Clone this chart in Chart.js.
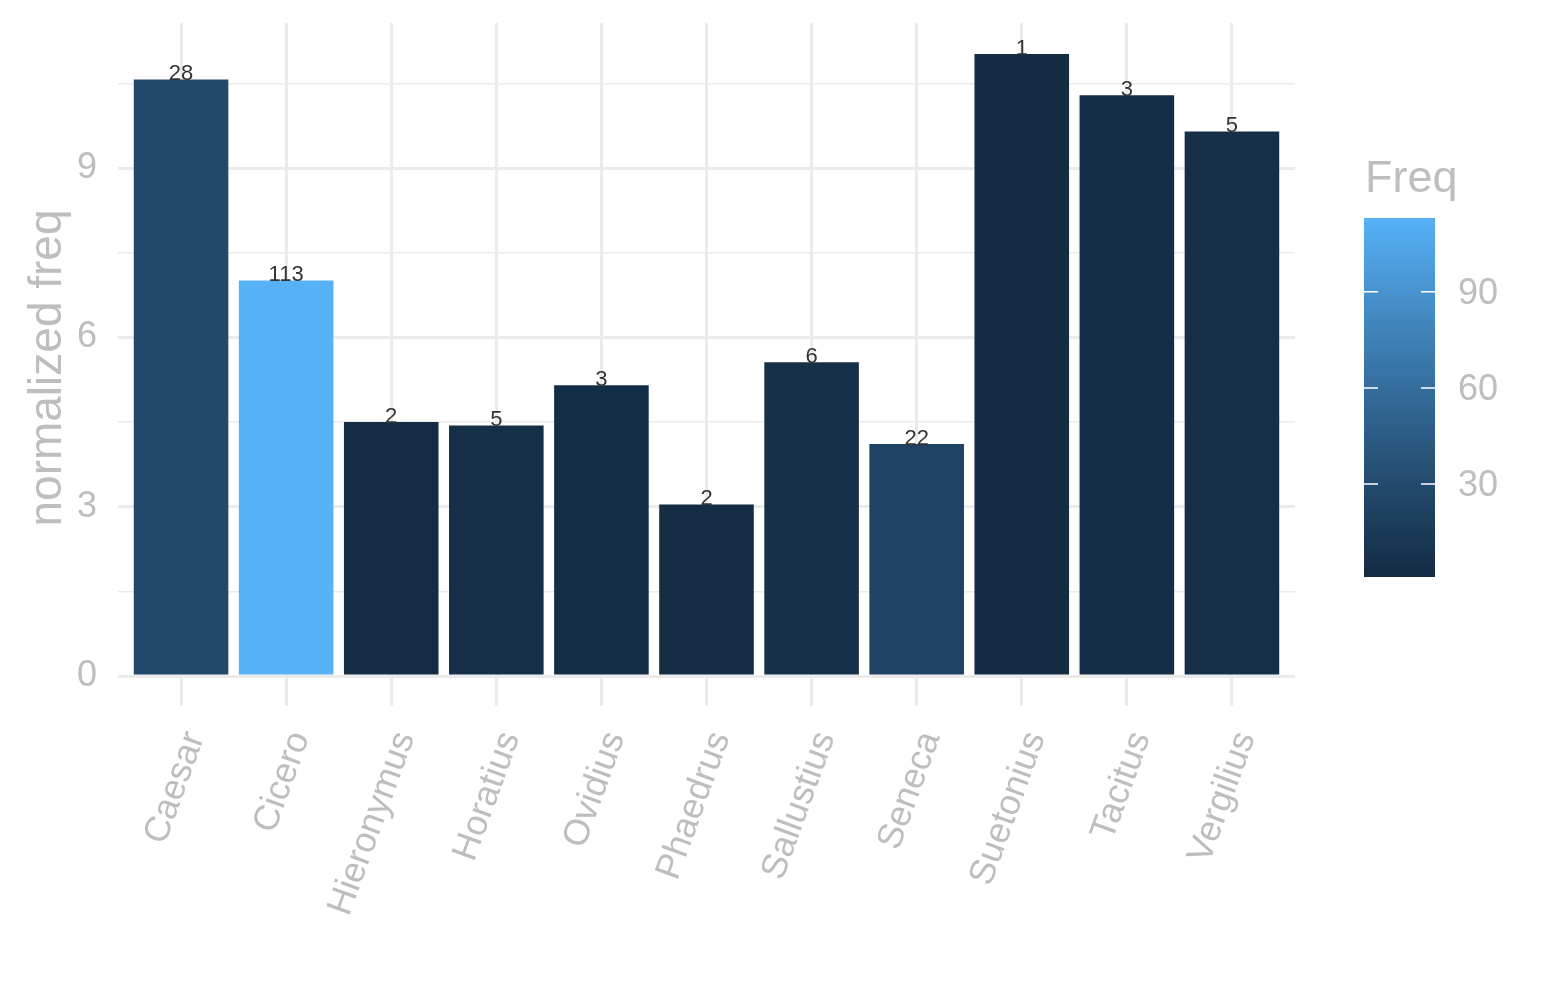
<!DOCTYPE html>
<html>
<head>
<meta charset="utf-8">
<script src="https://cdn.jsdelivr.net/npm/chart.js@4.4.1/dist/chart.umd.min.js"></script>
<style>
  html, body { margin: 0; padding: 0; background: #ffffff; }
  #wrap { width: 1545px; height: 1000px; }
</style>
</head>
<body>
<div id="wrap"><canvas id="freqChart" width="1545" height="1000"></canvas></div>
<script>
// data
const authors = ['Caesar', 'Cicero', 'Hieronymus', 'Horatius', 'Ovidius', 'Phaedrus',
                 'Sallustius', 'Seneca', 'Suetonius', 'Tacitus', 'Vergilius'];
const normFreq = [10.57, 7.01, 4.50, 4.44, 5.15, 3.04, 5.56, 4.11, 11.02, 10.29, 9.65];
const freq = [28, 113, 2, 5, 3, 2, 6, 22, 1, 3, 5];
const yMajorTicks = [0, 3, 6, 9];
const yMinorTicks = [1.5, 4.5, 7.5, 10.5];
const legendTicks = [30, 60, 90];

const GRID = '#EBEBEB';
const TEXT_GREY = '#BEBEBE';
const FONT = '"Liberation Sans", Arial, sans-serif';
const LOW = '#132B43', HIGH = '#56B1F7';   // ggplot default gradient ends

// --- colour ramp in CIELAB, like scales::seq_gradient_pal ---
function hexToRgb(h) {
    return [1, 3, 5].map(i => parseInt(h.substr(i, 2), 16) / 255);
}
function lin(c) { return c <= 0.04045 ? c / 12.92 : Math.pow((c + 0.055) / 1.055, 2.4); }
function unlin(c) { return c <= 0.0031308 ? 12.92 * c : 1.055 * Math.pow(c, 1 / 2.4) - 0.055; }
const WN = [0.95047, 1.0, 1.08883];
function rgbToLab(rgb) {
    const [r, g, b] = rgb.map(lin);
    const xyz = [
        r * 0.4124 + g * 0.3576 + b * 0.1805,
        r * 0.2126 + g * 0.7152 + b * 0.0722,
        r * 0.0193 + g * 0.1192 + b * 0.9505
    ];
    const f = xyz.map((v, i) => {
        const t = v / WN[i];
        return t > 0.008856 ? Math.cbrt(t) : 7.787 * t + 16 / 116;
    });
    return [116 * f[1] - 16, 500 * (f[0] - f[1]), 200 * (f[1] - f[2])];
}
function labToRgb(lab) {
    const fy = (lab[0] + 16) / 116;
    const fx = fy + lab[1] / 500;
    const fz = fy - lab[2] / 200;
    const [x, y, z] = [fx, fy, fz].map((f, i) => {
        const t = f * f * f > 0.008856 ? f * f * f : (f - 16 / 116) / 7.787;
        return t * WN[i];
    });
    const rgb = [
        x * 3.2406 + y * -1.5372 + z * -0.4986,
        x * -0.9689 + y * 1.8758 + z * 0.0415,
        x * 0.0557 + y * -0.2040 + z * 1.0570
    ];
    return rgb.map(c => Math.round(Math.min(1, Math.max(0, unlin(c))) * 255));
}
const labLow = rgbToLab(hexToRgb(LOW));
const labHigh = rgbToLab(hexToRgb(HIGH));
const fMin = Math.min(...freq), fMax = Math.max(...freq);
function freqColor(v) {
    const t = (v - fMin) / (fMax - fMin);
    const lab = labLow.map((c, i) => c + (labHigh[i] - c) * t);
    const [r, g, b] = labToRgb(lab);
    return `rgb(${r},${g},${b})`;
}

// --- count label above each bar ---
const barLabels = {
    id: 'barLabels',
    afterDatasetsDraw(chart) {
        const ctx = chart.ctx;
        const meta = chart.getDatasetMeta(0);
        ctx.save();
        ctx.font = `22px ${FONT}`;
        ctx.fillStyle = '#333333';
        ctx.textAlign = 'center';
        ctx.textBaseline = 'alphabetic';
        meta.data.forEach((bar, i) => {
            ctx.fillText(String(freq[i]), bar.x, bar.y + 1);
        });
        ctx.restore();
    }
};

// --- y axis title, centred a bit below the panel middle as in the original ---
const yTitle = {
    id: 'yTitle',
    afterDraw(chart) {
        const ctx = chart.ctx;
        ctx.save();
        ctx.translate(61, 368);
        ctx.rotate(-Math.PI / 2);
        ctx.font = `46px ${FONT}`;
        ctx.fillStyle = TEXT_GREY;
        ctx.textAlign = 'center';
        ctx.textBaseline = 'alphabetic';
        ctx.fillText('normalized freq', 0, 0);
        ctx.restore();
    }
};

// --- colour bar legend "Freq" ---
const colorbarLegend = {
    id: 'colorbarLegend',
    afterDraw(chart) {
        const ctx = chart.ctx;
        const left = 1364, width = 71, top = 218, bottom = 577;
        const toY = v => bottom - (v - fMin) / (fMax - fMin) * (bottom - top);
        ctx.save();
        ctx.font = `45px ${FONT}`;
        ctx.fillStyle = TEXT_GREY;
        ctx.textAlign = 'left';
        ctx.textBaseline = 'alphabetic';
        ctx.fillText('Freq', 1365, 192);

        // one row per pixel, no seams
        for (let y = top; y < bottom; y++) {
            const v = fMin + (bottom - (y + 0.5)) / (bottom - top) * (fMax - fMin);
            ctx.fillStyle = freqColor(v);
            ctx.fillRect(left, y, width, 1);
        }
        ctx.strokeStyle = '#ffffff';
        ctx.lineWidth = 1.5;
        ctx.font = `36px ${FONT}`;
        ctx.fillStyle = TEXT_GREY;
        ctx.textBaseline = 'middle';
        legendTicks.forEach(v => {
            const y = toY(v);
            ctx.beginPath();
            ctx.moveTo(left, y); ctx.lineTo(left + 14, y);
            ctx.moveTo(left + width - 14, y); ctx.lineTo(left + width, y);
            ctx.stroke();
            ctx.fillText(String(v), 1458, y + 2);
        });
        ctx.restore();
    }
};

const ctx = document.getElementById('freqChart').getContext('2d');
new Chart(ctx, {
    type: 'bar',
    data: {
        datasets: [{
            data: normFreq.map((v, i) => ({ x: i, y: v })),
            backgroundColor: freq.map(freqColor),
            borderWidth: 0,
            barPercentage: 0.9,
            categoryPercentage: 1.0
        }]
    },
    options: {
        responsive: false,
        animation: false,
        devicePixelRatio: 1,
        layout: { padding: { left: 0, top: 23, right: 250, bottom: 0 } },
        plugins: {
            legend: { display: false },
            tooltip: { enabled: false }
        },
        scales: {
            x: {
                type: 'linear',
                offset: false,
                min: -0.6,
                max: authors.length - 0.4,
                afterBuildTicks: s => { s.ticks = authors.map((a, i) => ({ value: i })); },
                afterFit: s => {
                    s.height = 1000 - 676;
                    s.paddingLeft = 0; s.paddingRight = 0;
                },
                border: { display: false },
                grid: {
                    offset: false,
                    color: GRID,
                    lineWidth: 3,
                    drawTicks: true,
                    tickLength: 30,
                    tickColor: GRID,
                    tickWidth: 3
                },
                ticks: {
                    autoSkip: false,
                    minRotation: 70,
                    maxRotation: 70,
                    padding: 20,
                    labelOffset: 14,
                    color: TEXT_GREY,
                    font: { family: FONT, size: 36 },
                    callback: v => authors[v]
                }
            },
            y: {
                min: 0,
                max: 11.571,
                afterBuildTicks: s => {
                    s.ticks = yMajorTicks.concat(yMinorTicks).sort((a, b) => a - b).map(v => ({ value: v }));
                },
                afterFit: s => {
                    s.width = 118;
                    s.paddingTop = 0; s.paddingBottom = 0;
                },
                border: { display: false },
                grid: {
                    color: GRID,
                    drawTicks: false,
                    lineWidth: c => (c.tick && yMajorTicks.includes(c.tick.value)) ? 3 : 1.6
                },
                ticks: {
                    padding: 21,
                    color: TEXT_GREY,
                    font: { family: FONT, size: 36 },
                    callback: v => yMajorTicks.includes(v) ? String(v) : ''
                }
            }
        }
    },
    plugins: [barLabels, yTitle, colorbarLegend]
});
</script>
</body>
</html>
